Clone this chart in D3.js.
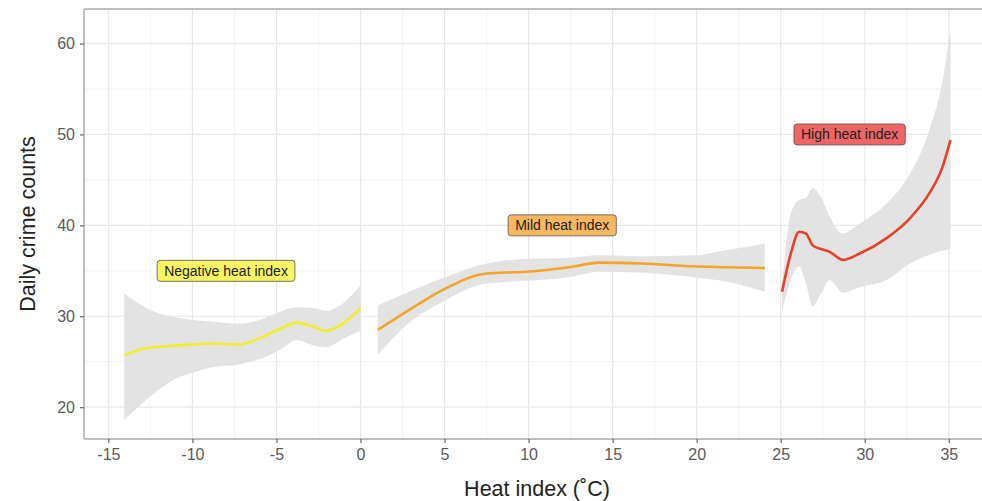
<!DOCTYPE html>
<html>
<head>
<meta charset="utf-8">
<script src="https://cdn.jsdelivr.net/npm/d3@7"></script>
<style>
  body { margin: 0; background: #fff; }
  svg text { font-family: "Liberation Sans", Arial, sans-serif; }
</style>
</head>
<body>
<script>
// smoothed fits: x, fit, lower, upper
var negX   = [-14.05, -12.75, -10.8, -10, -8.8, -7.2, -6, -4.8, -3.8, -2.8, -2.05, -1.05, 0];
var negFit = [25.7, 26.5, 26.8, 26.9, 27.0, 26.9, 27.6, 28.6, 29.3, 28.85, 28.4, 29.2, 30.9];
var negLo  = [18.6, 20.8, 23.3, 23.8, 24.4, 24.7, 25.3, 26.3, 27.4, 26.8, 26.6, 27.5, 28.4];
var negHi  = [32.5, 30.9, 29.8, 29.6, 29.4, 29.2, 29.6, 30.5, 31.0, 30.9, 30.6, 31.4, 33.4];

var midX   = [1.03, 2.9, 4.9, 7.5, 9.86, 12.4, 14.2, 16.8, 19.8, 21.8, 24.05];
var midFit = [28.5, 30.7, 32.9, 34.7, 34.9, 35.4, 35.9, 35.8, 35.5, 35.4, 35.3];
var midLo  = [25.8, 29.3, 31.6, 33.6, 33.9, 34.3, 34.9, 34.8, 34.3, 33.8, 32.7];
var midHi  = [31.2, 32.7, 34.2, 35.8, 36.3, 36.4, 36.7, 36.6, 36.7, 37.3, 38.0];

var hiX    = [25.08, 25.6, 26.1, 26.5, 26.9, 27.4, 27.9, 28.7, 29.7, 31.3, 32.7, 33.9, 34.6, 35.1];
var hiFit  = [32.7, 36.9, 39.3, 39.1, 37.8, 37.4, 37.1, 36.2, 36.9, 38.6, 40.8, 43.7, 46.3, 49.4];
var hiLo   = [30.5, 34.0, 35.5, 33.6, 31.1, 32.5, 34.0, 32.6, 33.2, 34.0, 35.8, 36.8, 37.2, 37.4];
var hiHi   = [33.3, 41.3, 42.8, 43.0, 44.1, 43.1, 41.0, 39.1, 40.2, 42.4, 45.7, 50.8, 55.6, 61.5];

var labelText = ["Negative heat index", "Mild heat index", "High heat index"];
var labelX = [-8, 12, 29.1];
var labelY = [35, 40, 50];

var xTicks = [-15, -10, -5, 0, 5, 10, 15, 20, 25, 30, 35];
var yTicks = [20, 30, 40, 50, 60];

var lineColors  = ["#f3ee2c", "#f4a427", "#e6412b"];
var labelColors = ["#f6f462", "#f7b75e", "#ef6464"];

var W = 982, H = 501;
var pLeft = 84, pTop = 9, pBottom = 439, pRight = 990;

var svg = d3.select("body").append("svg").attr("width", W).attr("height", H);

var x = d3.scaleLinear().domain([-16.45, 37.45]).range([pLeft, pRight]);
var y = d3.scaleLinear().domain([16.5, 63.8]).range([pBottom, pTop]);

// grid
var minorX = d3.range(-12.5, 40, 5), minorY = [25, 35, 45, 55];
var grid = svg.append("g");
grid.selectAll(".mx").data(minorX).enter().append("line")
  .attr("x1", d => x(d)).attr("x2", d => x(d)).attr("y1", pTop).attr("y2", pBottom)
  .attr("stroke", "#f3f3f3").attr("stroke-width", 1);
grid.selectAll(".my").data(minorY).enter().append("line")
  .attr("y1", d => y(d)).attr("y2", d => y(d)).attr("x1", pLeft).attr("x2", pRight)
  .attr("stroke", "#f3f3f3").attr("stroke-width", 1);
grid.selectAll(".gx").data(xTicks).enter().append("line")
  .attr("x1", d => x(d)).attr("x2", d => x(d)).attr("y1", pTop).attr("y2", pBottom)
  .attr("stroke", "#e8e8e8").attr("stroke-width", 1.2);
grid.selectAll(".gy").data(yTicks).enter().append("line")
  .attr("y1", d => y(d)).attr("y2", d => y(d)).attr("x1", pLeft).attr("x2", pRight)
  .attr("stroke", "#e8e8e8").attr("stroke-width", 1.2);

var groups = [
  {x: negX, fit: negFit, lo: negLo, hi: negHi},
  {x: midX, fit: midFit, lo: midLo, hi: midHi},
  {x: hiX,  fit: hiFit,  lo: hiLo,  hi: hiHi}
];

var area = d3.area().curve(d3.curveMonotoneX)
  .x(d => x(d[0])).y0(d => y(d[1])).y1(d => y(d[2]));
var line = d3.line().curve(d3.curveMonotoneX)
  .x(d => x(d[0])).y(d => y(d[1]));

groups.forEach(function(g, i) {
  var band = g.x.map((v, k) => [v, g.lo[k], g.hi[k]]);
  var fit = g.x.map((v, k) => [v, g.fit[k]]);
  svg.append("path").datum(band).attr("d", area).attr("fill", "#e3e3e3");
  svg.append("path").datum(fit).attr("d", line)
    .attr("fill", "none").attr("stroke", lineColors[i]).attr("stroke-width", 2.6);
});

// labels
labelText.forEach(function(t, i) {
  var lg = svg.append("g");
  var txt = lg.append("text").attr("x", x(labelX[i])).attr("y", y(labelY[i]) + 5)
    .attr("text-anchor", "middle").attr("font-size", 14).attr("fill", "#222").text(t);
  var bb = txt.node().getBBox();
  lg.insert("rect", "text")
    .attr("x", bb.x - 7).attr("y", y(labelY[i]) - 10.5)
    .attr("width", bb.width + 14).attr("height", 21)
    .attr("rx", 3).attr("ry", 3)
    .attr("fill", labelColors[i]).attr("stroke", "#555").attr("stroke-width", 0.8);
});

// panel border
svg.append("line").attr("x1", pLeft).attr("x2", pRight).attr("y1", pTop).attr("y2", pTop)
  .attr("stroke", "#aaa").attr("stroke-width", 1.5);
svg.append("line").attr("x1", pLeft).attr("x2", pRight).attr("y1", pBottom).attr("y2", pBottom)
  .attr("stroke", "#aaa").attr("stroke-width", 1.5);
svg.append("line").attr("x1", pLeft).attr("x2", pLeft).attr("y1", pTop).attr("y2", pBottom)
  .attr("stroke", "#aaa").attr("stroke-width", 1.5);

// axes
var xAxis = svg.append("g").attr("transform", "translate(0," + pBottom + ")")
  .call(d3.axisBottom(x).tickValues(xTicks).tickFormat(d => String(d)).tickSize(4).tickPadding(6));
var yAxis = svg.append("g").attr("transform", "translate(" + pLeft + ",0)")
  .call(d3.axisLeft(y).tickValues(yTicks).tickFormat(d => String(d)).tickSize(4).tickPadding(5));
[xAxis, yAxis].forEach(function(a) {
  a.select(".domain").remove();
  a.selectAll(".tick line").attr("stroke", "#666").attr("stroke-width", 1.2);
  a.selectAll(".tick text").attr("fill", "#5a5a5a").attr("font-size", 16)
    .style("font-family", "'Liberation Sans', Arial, sans-serif");
});

svg.append("text").attr("x", (pLeft + pRight) / 2).attr("y", 496)
  .attr("text-anchor", "middle").attr("font-size", 21.5).attr("fill", "#222")
  .text("Heat index (˚C)");
svg.append("text").attr("transform", "translate(35," + ((pTop + pBottom) / 2) + ") rotate(-90)")
  .attr("text-anchor", "middle").attr("font-size", 21.5).attr("fill", "#222")
  .text("Daily crime counts");
</script>
</body>
</html>
